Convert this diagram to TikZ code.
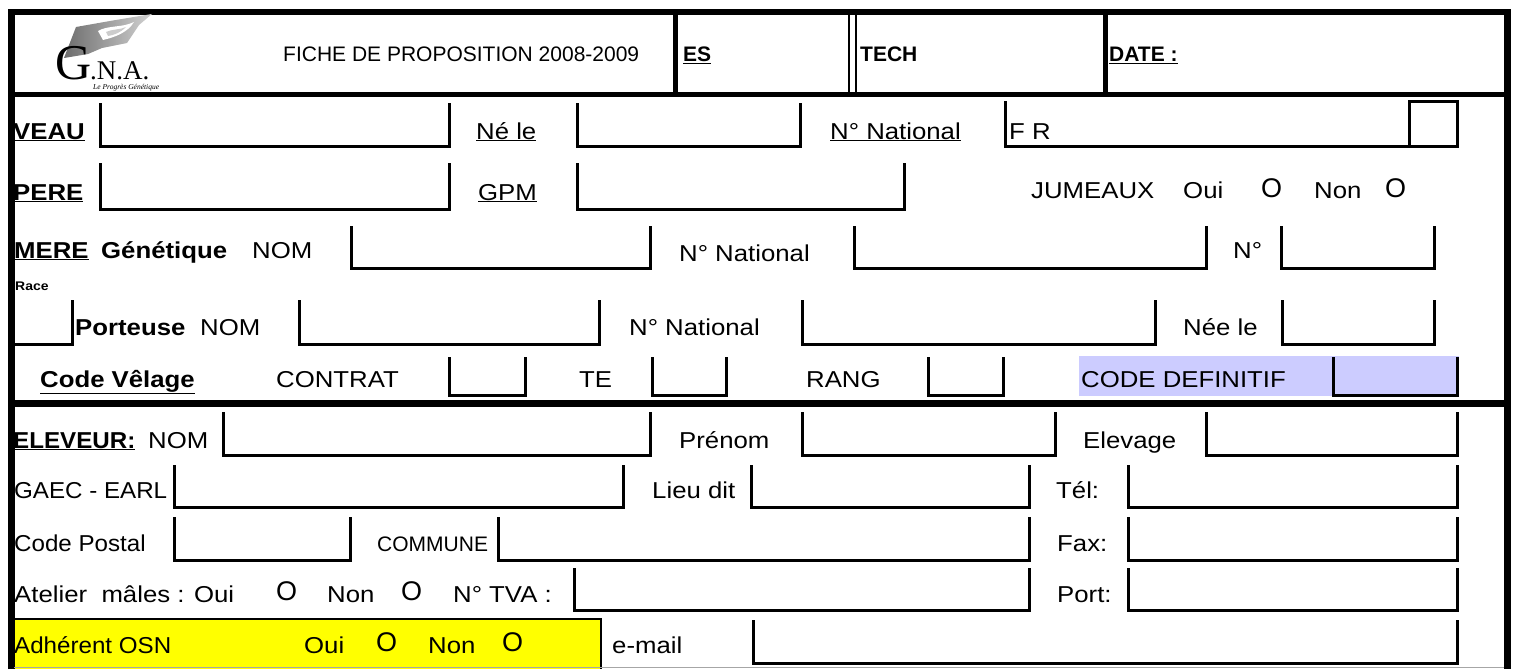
\documentclass[tikz,border=0pt]{standalone}
\usepackage{fontspec}
\setmainfont{Liberation Sans}[FakeStretch=1.12]
\newfontfamily\headf{Liberation Sans}
\newfontfamily\midf{Liberation Sans}[FakeStretch=1.05]
\newfontfamily\logofont{Liberation Serif}
\definecolor{lav}{RGB}{204,204,255}
\definecolor{yel}{RGB}{255,255,0}
\newcommand\bsz{\fontsize{23}{26}\selectfont}
\newcommand\hsz{\headf\fontsize{21}{24}\selectfont}
\newcommand\msz{\midf\fontsize{23}{26}\selectfont}
\newcommand\osz{\headf\fontsize{27}{30}\selectfont}
\newcommand\fld[4]{\draw[fieldline] (#1,#3) -- (#1,#4) -- (#2,#4) -- (#2,#3);}
\begin{document}
\begin{tikzpicture}[x=1pt,y=-1pt,
  fieldline/.style={line width=3pt,line join=miter},
  txt/.style={anchor=base west,inner sep=0pt,font=\bsz},
  mtxt/.style={anchor=base west,inner sep=0pt,font=\msz},
  htxt/.style={anchor=base west,inner sep=0pt,font=\hsz},
  otxt/.style={anchor=base west,inner sep=0pt,font=\osz},
  frame/.style={line width=6.5pt,line join=miter}]
\useasboundingbox (0,0) rectangle (1514,669);
% fills
\fill[lav] (1079,356) rectangle (1459,395.5);
\fill[yel] (11,619) rectangle (601,669);
\draw[line width=2.5pt] (11,619) -- (601,619) -- (601,669);
% outer frame
\draw[frame] (11.5,669) -- (11.5,12) -- (1507.5,12) -- (1507.5,669);
\draw[gray!70,line width=1.5pt] (14,667.5) -- (1504,667.5);
% dividers
\draw[line width=5pt] (8,94) -- (1511,94);
\draw[line width=7pt] (8,403.5) -- (1511,403.5);
\draw[line width=5pt] (675,12) -- (675,94);
\draw[line width=2pt] (849,12) -- (849,94) (856,12) -- (856,94);
\draw[line width=5pt] (1105,12) -- (1105,94);
% logo
\shade[left color=gray!85!black,right color=gray!35] (64,58) -- (76,27) -- (110,21) -- (152,14) -- (139,25) -- (127,43) -- (102,48) -- (88,54) -- cycle;
\fill[white] (98,31) .. controls (108,25) and (122,28) .. (134,22) .. controls (128,32) and (116,37) .. (103,40) -- cycle;
\fill[gray!40] (106,32) .. controls (112,29) and (120,30) .. (126,27) .. controls (120,33) and (114,35) .. (108,36) -- cycle;
\node[anchor=base west,inner sep=0pt,font=\logofont\fontsize{50}{50}\selectfont] (logoG) at (55,79) {G};
\node[anchor=base west,inner sep=0pt,font=\logofont\fontsize{27}{27}\selectfont] (logoNA) at (90,79) {.N.A.};
\node[anchor=base west,inner sep=0pt,font=\logofont\itshape\fontsize{7.5}{8}\selectfont] (logoT) at (93,89) {Le Progrès Génétique};
% header texts
\node[htxt] (fiche) at (283,62) {FICHE DE PROPOSITION 2008-2009};
\node[htxt] (es) at (683,62) {\bfseries\underline{ES}};
\node[htxt] (tech) at (860,62) {\bfseries TECH};
\node[htxt] (date) at (1109,62) {\bfseries\underline{DATE :}};
% VEAU row
\fld{100}{449}{103}{146}
\fld{577}{800}{103}{146}
\draw[fieldline] (1005,101) -- (1005,146) -- (1457,146);
\draw[fieldline] (1409,101) rectangle (1457,146);
\node[txt] (veau) at (13,139) {\bfseries\underline{VEAU}};
\node[txt] (nele) at (476,139) {\underline{Né le}};
\node[txt] (nnat1) at (830,139) {\underline{N° National}};
\node[txt] (fr) at (1009,139) {F R};
% PERE row
\fld{100}{449}{163}{209}
\fld{577}{904}{163}{209}
\node[txt] (pere) at (13,200) {\bfseries\underline{PERE}};
\node[txt] (gpm) at (478,200) {\underline{GPM}};
\node[txt] (jum) at (1031,198) {JUMEAUX};
\node[txt] (joui) at (1183,198) {Oui};
\node[otxt] (jo1) at (1261,197) {O};
\node[txt] (jnon) at (1314,198) {Non};
\node[otxt] (jo2) at (1385,197) {O};
% MERE row
\fld{351}{650}{226}{268}
\fld{854}{1206}{226}{268}
\fld{1281}{1434}{226}{268}
\node[txt] (mere) at (14,258) {\bfseries\underline{MERE}};
\node[txt] (genet) at (101,258) {\bfseries Génétique};
\node[txt] (nom1) at (252,258) {NOM};
\node[txt] (nnat2) at (679,261) {N° National};
\node[txt] (nno) at (1233,258) {N°};
\node[anchor=base west,inner sep=0pt,font=\bfseries\fontsize{12.5}{13}\selectfont] (race) at (15,290) {Race};
% Porteuse row
\draw[fieldline] (11,344) -- (72,344) -- (72,300);
\fld{299}{599}{300}{344}
\fld{802}{1155}{300}{344}
\fld{1282}{1434}{300}{344}
\node[txt] (port) at (75,335) {\bfseries Porteuse};
\node[txt] (nom2) at (200,335) {NOM};
\node[txt] (nnat3) at (629,335) {N° National};
\node[txt] (neele) at (1183,335) {Née le};
% Code Velage row
\fld{449}{525}{357}{395}
\fld{652}{726}{357}{395}
\fld{928}{1003}{357}{395}
\fld{1333}{1457}{357}{395}
\node[txt] (codev) at (40,387) {\bfseries\underline{Code Vêlage}};
\node[txt] (contrat) at (276,387) {CONTRAT};
\node[txt] (te) at (579,387) {TE};
\node[txt] (rang) at (806,387) {RANG};
\node[txt] (codedef) at (1081,387) {CODE DEFINITIF};
% ELEVEUR row
\fld{223}{650}{412}{455}
\fld{802}{1055}{412}{455}
\fld{1206}{1457}{412}{455}
\node[mtxt] (elev) at (13,448) {\bfseries\underline{ELEVEUR:}};
\node[txt] (nom3) at (148,448) {NOM};
\node[txt] (prenom) at (679,448) {Prénom};
\node[txt] (elevage) at (1083,448) {Elevage};
% GAEC row
\fld{174}{623}{465}{507}
\fld{751}{1029}{465}{507}
\fld{1128}{1457}{465}{507}
\node[mtxt] (gaec) at (14,498) {GAEC - EARL};
\node[txt] (lieu) at (652,498) {Lieu dit};
\node[txt] (tel) at (1056,498) {Tél:};
% Code postal row
\fld{174}{350}{517}{560}
\fld{498}{1029}{517}{560}
\fld{1128}{1457}{517}{560}
\node[mtxt] (cp) at (14,551) {Code Postal};
\node[anchor=base west,inner sep=0pt,font=\headf\fontsize{21}{22}\selectfont] (commune) at (377,551) {COMMUNE};
\node[txt] (fax) at (1057,551) {Fax:};
% Atelier row
\fld{574}{1029}{568}{610}
\fld{1128}{1457}{568}{610}
\node[txt] (atel) at (14,602) {Atelier~~mâles : Oui};
\node[otxt] (ao1) at (276,600) {O};
\node[txt] (anon) at (327,602) {Non};
\node[otxt] (ao2) at (401,600) {O};
\node[txt] (tva) at (453,602) {N° TVA :};
\node[txt] (portt) at (1057,602) {Port:};
% Adherent row
\fld{753}{1457}{620}{663}
\node[mtxt] (adh) at (14,653) {Adhérent OSN};
\node[txt] (aoui) at (304,653) {Oui};
\node[otxt] (adho1) at (376,651) {O};
\node[txt] (adnon) at (428,653) {Non};
\node[otxt] (adho2) at (502,651) {O};
\node[txt] (email) at (612,653) {e-mail};
\end{tikzpicture}
\end{document}
